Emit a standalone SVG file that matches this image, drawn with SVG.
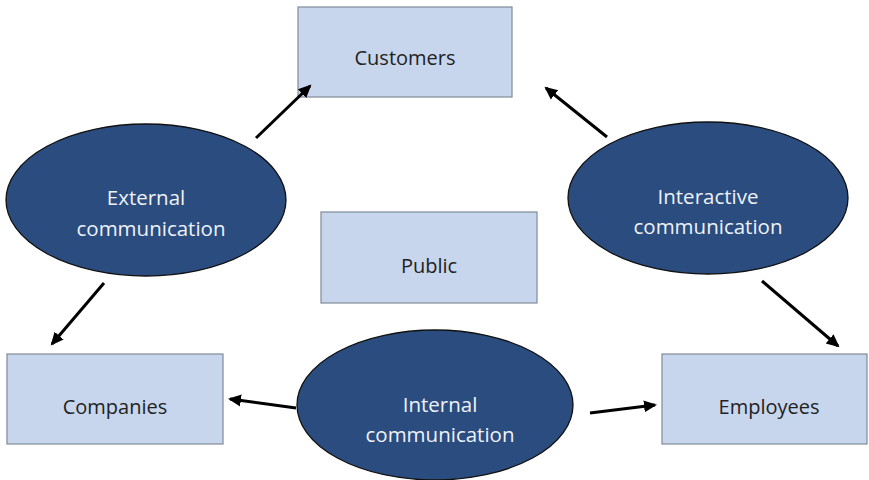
<svg xmlns="http://www.w3.org/2000/svg" width="869" height="480" viewBox="0 0 869 480">
<defs>
<marker id="ah" markerWidth="14" markerHeight="14" refX="11" refY="7" orient="auto" markerUnits="userSpaceOnUse" viewBox="0 0 14 14">
<path d="M0,1 L13,7 L0,13 Z" fill="#000"/>
</marker>
</defs>
<style>
.box{fill:#c7d6ed;stroke:#808a98;stroke-width:1.2}
.ell{fill:#2b4c7e;stroke:#111;stroke-width:1.3}
.bt{font-family:"Open Sans","Liberation Sans",sans-serif;font-size:20px;fill:#222;text-anchor:middle}
.et{font-family:"Open Sans","Liberation Sans",sans-serif;font-size:20.5px;fill:#eef2f8;text-anchor:middle}
.con{stroke:#000;stroke-width:3;fill:none;marker-end:url(#ah)}
</style>
<rect width="869" height="480" fill="#fff"/>
<g id="customers"><rect class="box" x="298" y="7" width="214" height="90"/><text class="bt" x="405" y="65">Customers</text></g>
<g id="public"><rect class="box" x="321" y="212" width="216" height="91"/><text class="bt" x="429" y="273">Public</text></g>
<g id="companies"><rect class="box" x="7" y="354" width="216" height="90"/><text class="bt" x="115" y="414">Companies</text></g>
<g id="employees"><rect class="box" x="662" y="354" width="205" height="90"/><text class="bt" x="769" y="414">Employees</text></g>
<g id="external"><ellipse class="ell" cx="146" cy="200" rx="140" ry="76"/><text class="et" x="146" y="205">External</text><text class="et" x="151" y="236">communication</text></g>
<g id="interactive"><ellipse class="ell" cx="708" cy="198" rx="140" ry="76"/><text class="et" x="708" y="204">Interactive</text><text class="et" x="708" y="234">communication</text></g>
<g id="internal"><ellipse class="ell" cx="435" cy="405" rx="138" ry="75"/><text class="et" x="440" y="412">Internal</text><text class="et" x="440" y="442">communication</text></g>
<g id="connectors">
<line class="con" x1="256" y1="138" x2="310" y2="86"/>
<line class="con" x1="607" y1="137" x2="546" y2="88"/>
<line class="con" x1="104" y1="283" x2="52" y2="344"/>
<line class="con" x1="762" y1="281" x2="838" y2="346"/>
<line class="con" x1="296" y1="408" x2="230" y2="399"/>
<line class="con" x1="590" y1="413" x2="655" y2="405"/>
</g>
</svg>
